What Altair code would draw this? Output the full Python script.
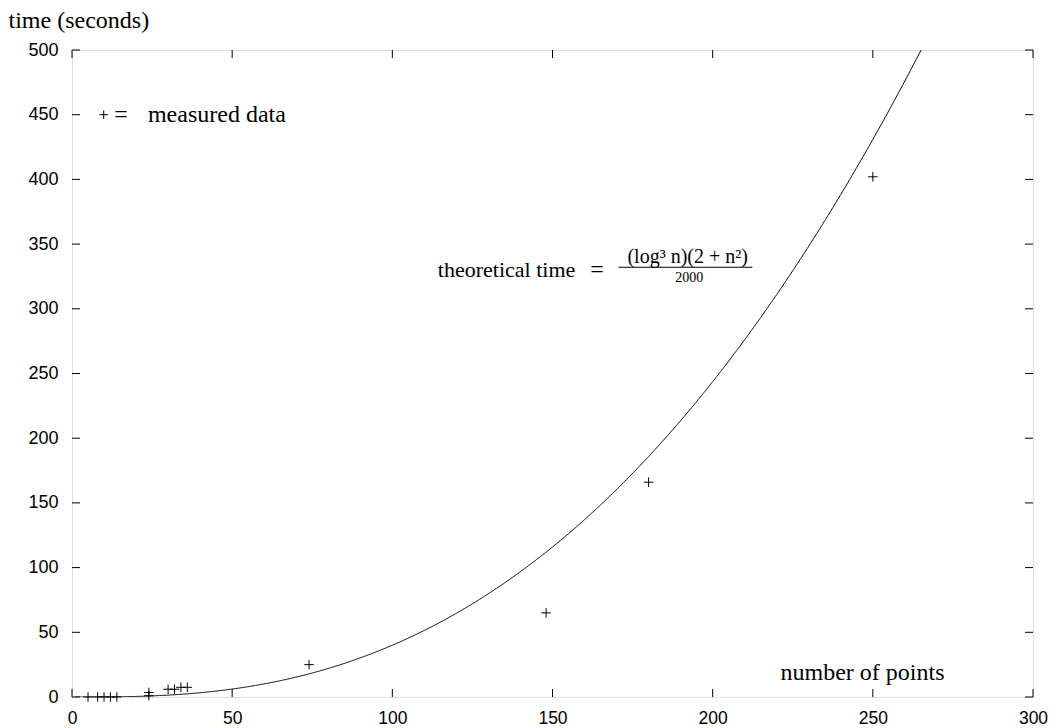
import altair as alt
import pandas as pd

meas_n = [5, 8, 10, 12, 14, 24, 24, 30, 32, 34, 36, 74, 148, 180, 250]
meas_t = [0, 0, 0, 0, 0, 1, 3.5, 6, 6, 7.5, 7.5, 25, 65, 166, 402]

x_ticks = [0, 50, 100, 150, 200, 250, 300]
y_ticks = [0, 50, 100, 150, 200, 250, 300, 350, 400, 450, 500]

W, H = 961, 647
TL = 8  # tick length in px
SERIF = "Liberation Serif"
SANS = "Liberation Sans"
TITLE_SIZE = 24

xscale = alt.Scale(domain=[0, 300], nice=False, zero=False)
yscale = alt.Scale(domain=[0, 500], nice=False, zero=False)

xaxis = alt.Axis(values=x_ticks, ticks=False, domain=False, grid=False,
                 labelFont=SANS, labelFontSize=17.5, labelColor="black",
                 labelPadding=12, labelFlush=False,
                 title="number of points", titleFont=SERIF, titleFontSize=TITLE_SIZE,
                 titleFontWeight="normal", titleColor="black",
                 titleX=708, titleY=-25, titleAlign="left", titleBaseline="middle",
                 titleAnchor="start")
yaxis = alt.Axis(values=y_ticks, ticks=False, domain=False, grid=False,
                 labelFont=SANS, labelFontSize=18, labelColor="black",
                 labelPadding=14, labelFlush=False,
                 title="time (seconds)", titleFont=SERIF, titleFontSize=TITLE_SIZE,
                 titleFontWeight="normal", titleColor="black", titleAngle=0,
                 titleX=-64, titleY=-30, titleAlign="left", titleBaseline="middle",
                 titleAnchor="start")


def X(field=None, datum=None):
    if datum is not None:
        return alt.X(datum=datum, type="quantitative", scale=xscale, axis=xaxis)
    return alt.X(field, type="quantitative", scale=xscale, axis=xaxis)


def Y(field=None, datum=None):
    if datum is not None:
        return alt.Y(datum=datum, type="quantitative", scale=yscale, axis=yaxis)
    return alt.Y(field, type="quantitative", scale=yscale, axis=yaxis)


# theoretical curve: (log10^3 n)(2+n^2)/2000, computed by Vega
curve = (
    alt.Chart(alt.sequence(1, 270.25, 0.25, as_="n"))
    .transform_calculate(t="pow(log(datum.n)/LN10, 3) * (2 + datum.n*datum.n) / 2000")
    .mark_line(color="black", strokeWidth=1, clip=True)
    .encode(x=X("n"), y=Y("t"))
)

plus_path = "M-1,0L1,0M0,-1L0,1"
meas_df = pd.DataFrame({"n": meas_n, "t": meas_t})
points = (
    alt.Chart(meas_df)
    .mark_point(shape=plus_path, size=90, filled=False, color="black",
                strokeWidth=1, opacity=1)
    .encode(x=X("n"), y=Y("t"))
)

xt = pd.DataFrame({"v": x_ticks})
yt = pd.DataFrame({"v": y_ticks})
rule_style = dict(color="black", strokeWidth=1)
ticks_bottom = alt.Chart(xt).mark_rule(**rule_style).encode(
    x=X("v"), y=alt.value(H), y2=alt.value(H - TL))
ticks_top = alt.Chart(xt).mark_rule(**rule_style).encode(
    x=X("v"), y=alt.value(0), y2=alt.value(TL))
ticks_left = alt.Chart(yt).mark_rule(**rule_style).encode(
    y=Y("v"), x=alt.value(0), x2=alt.value(TL))
ticks_right = alt.Chart(yt).mark_rule(**rule_style).encode(
    y=Y("v"), x=alt.value(W), x2=alt.value(W - TL))

one = pd.DataFrame({"a": [0]})


def label(text, x, y, size=TITLE_SIZE, align="left"):
    return alt.Chart(one).mark_text(
        text=text, font=SERIF, fontSize=size, align=align,
        baseline="middle", color="black"
    ).encode(x=X(datum=x), y=Y(datum=y))


# key
key_sym = alt.Chart(one).mark_point(
    shape=plus_path, size=72, filled=False, color="black", strokeWidth=1, opacity=1
).encode(x=X(datum=9.9), y=Y(datum=450))
key_eq = label("=", 15.3, 450, align="center")
key_txt = label("measured data", 23.7, 450)

# formula label
f_main = label("theoretical time", 114.2, 330, size=22)
f_eq = label("=", 163.9, 330, align="center")
f_num = label("(log³ n)(2 + n²)", 192.2, 340.3, size=20, align="center")
f_den = label("2000", 192.7, 324.0, size=14, align="center")
f_bar = alt.Chart(one).mark_rule(color="black", strokeWidth=1).encode(
    x=X(datum=170.6), x2=alt.X2(datum=212.4), y=Y(datum=332.1))

chart = (
    alt.layer(curve, points, ticks_bottom, ticks_top, ticks_left, ticks_right,
              key_sym, key_eq, key_txt, f_main, f_eq, f_num, f_den, f_bar)
    .properties(width=W, height=H,
                autosize=alt.AutoSizeParams(type="none"),
                padding={"left": 64, "top": 42, "right": 16, "bottom": 31})
    .configure_view(stroke="black", strokeWidth=1)
    .configure(background="white")
)

chart.save("out.html", embed_options={"renderer": "svg", "actions": False})
